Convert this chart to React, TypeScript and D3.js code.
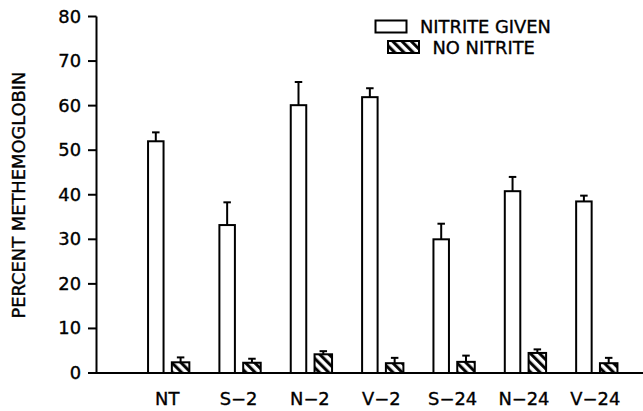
import React from "react";
import * as d3 from "d3";

const categories = ["NT", "S−2", "N−2", "V−2", "S−24", "N−24", "V−24"];
const nitriteGiven = [52, 33.2, 60.1, 61.9, 30.0, 40.8, 38.5];
const nitriteGivenErr = [2.0, 5.1, 5.2, 2.0, 3.5, 3.2, 1.3];
const noNitrite = [2.4, 2.3, 4.2, 2.2, 2.5, 4.5, 2.2];
const noNitriteErr = [1.1, 0.9, 0.7, 1.2, 1.4, 0.8, 1.2];
const yTicks = [0, 10, 20, 30, 40, 50, 60, 70, 80];
const legendLabels = ["NITRITE GIVEN", "NO NITRITE"];
const yTitle = "PERCENT METHEMOGLOBIN";

const W = 643;
const H = 411;
const FONT = "'DejaVu Sans', 'Liberation Sans', Arial, sans-serif";
const SX = 1.05;

function T({ x, y, anchor = "start", rotate = 0, children }: any) {
  return (
    <g transform={`translate(${x},${y}) rotate(${rotate}) scale(${SX},1)`}>
      <text
        x={0}
        y={0}
        textAnchor={anchor}
        fontFamily={FONT}
        fontSize={17}
        fill="#000"
        stroke="#000"
        strokeWidth={0.35}
      >
        {children}
      </text>
    </g>
  );
}

export default function App() {
  const y = d3.scaleLinear().domain([0, 80]).range([373, 16.5]);
  const x = d3.scalePoint<string>().domain(categories).range([168.2, 596.3]);
  const axisX = 96.5;
  const wW = 15.5;
  const hW = 17.5;
  const off = 12.4;
  const capW = 7.5;

  return (
    <svg
      width={W}
      height={H}
      style={{ position: "absolute", left: 0, top: 0, background: "#fff" }}
    >
      <defs>
        <pattern
          id="hatch"
          patternUnits="userSpaceOnUse"
          width={6.5}
          height={6.5}
          patternTransform="rotate(-45)"
        >
          <rect width={6.5} height={6.5} fill="#fff" />
          <line x1={1.6} y1={0} x2={1.6} y2={6.5} stroke="#000" strokeWidth={3} />
        </pattern>
      </defs>

      {/* y axis */}
      <line x1={axisX} y1={y(80)} x2={axisX} y2={y(0) + 1} stroke="#000" strokeWidth={2} />
      {yTicks.map((t) => (
        <g key={t}>
          <line x1={axisX - 8.5} x2={axisX} y1={y(t)} y2={y(t)} stroke="#000" strokeWidth={2} />
          <T x={81} y={y(t) + 6} anchor="end">
            {t}
          </T>
        </g>
      ))}
      <T x={25} y={195} anchor="middle" rotate={-90}>
        {yTitle}
      </T>

      {/* bars */}
      {categories.map((c, i) => {
        const cx = x(c) as number;
        const wx = cx - off;
        const hx = cx + off;
        return (
          <g key={c}>
            <line x1={wx} x2={wx} y1={y(nitriteGiven[i])} y2={y(nitriteGiven[i] + nitriteGivenErr[i])} stroke="#000" strokeWidth={2} />
            <line x1={wx - capW / 2} x2={wx + capW / 2} y1={y(nitriteGiven[i] + nitriteGivenErr[i])} y2={y(nitriteGiven[i] + nitriteGivenErr[i])} stroke="#000" strokeWidth={2} />
            <rect
              x={wx - wW / 2}
              y={y(nitriteGiven[i])}
              width={wW}
              height={y(0) - y(nitriteGiven[i])}
              fill="#fff"
              stroke="#000"
              strokeWidth={2}
            />
            <line x1={hx} x2={hx} y1={y(noNitrite[i])} y2={y(noNitrite[i] + noNitriteErr[i])} stroke="#000" strokeWidth={2} />
            <line x1={hx - capW / 2} x2={hx + capW / 2} y1={y(noNitrite[i] + noNitriteErr[i])} y2={y(noNitrite[i] + noNitriteErr[i])} stroke="#000" strokeWidth={2} />
            <rect
              x={hx - hW / 2}
              y={y(noNitrite[i])}
              width={hW}
              height={y(0) - y(noNitrite[i])}
              fill="url(#hatch)"
              stroke="#000"
              strokeWidth={2}
            />
            <T x={cx - 1} y={405} anchor="middle">
              {c}
            </T>
          </g>
        );
      })}

      {/* x axis */}
      <line x1={axisX} x2={W} y1={y(0)} y2={y(0)} stroke="#000" strokeWidth={2} />

      {/* legend */}
      <rect x={375.5} y={20.5} width={31} height={12} fill="#fff" stroke="#000" strokeWidth={2} />
      <T x={420} y={33}>
        {legendLabels[0]}
      </T>
      <rect x={388} y={41} width={31} height={12} fill="url(#hatch)" stroke="#000" strokeWidth={2} />
      <T x={432.5} y={54}>
        {legendLabels[1]}
      </T>
    </svg>
  );
}
